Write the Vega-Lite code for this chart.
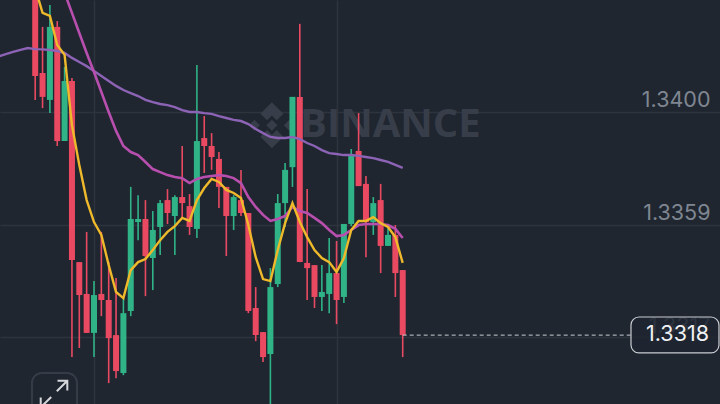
{"$schema":"https://vega.github.io/schema/vega-lite/v6.json","width":720,"height":404,"padding":0,"autosize":{"type":"none"},"background":"#1f2630","config":{"view":{"stroke":null}},
"resolve":{"axis":{"y":"independent"}},
"datasets":{"candles":[
{"t":0,"open":1.34481,"high":1.34481,"low":1.34044,"close":1.34131},
{"t":1,"open":1.34142,"high":1.3431,"low":1.34014,"close":1.34055},
{"t":2,"open":1.34044,"high":1.3439,"low":1.33996,"close":1.3431},
{"t":3,"open":1.3431,"high":1.34331,"low":1.33876,"close":1.33894},
{"t":4,"open":1.33894,"high":1.34164,"low":1.33894,"close":1.34113},
{"t":5,"open":1.34113,"high":1.34124,"low":1.33107,"close":1.33461},
{"t":6,"open":1.33453,"high":1.33453,"low":1.3314,"close":1.33333},
{"t":7,"open":1.33337,"high":1.33563,"low":1.33195,"close":1.33195},
{"t":8,"open":1.33195,"high":1.33384,"low":1.33107,"close":1.33333},
{"t":9,"open":1.33337,"high":1.33563,"low":1.33256,"close":1.33315},
{"t":10,"open":1.33315,"high":1.33453,"low":1.33012,"close":1.33176},
{"t":11,"open":1.33187,"high":1.33395,"low":1.3303,"close":1.33056},
{"t":12,"open":1.33049,"high":1.33322,"low":1.33041,"close":1.33267},
{"t":13,"open":1.33275,"high":1.33727,"low":1.33256,"close":1.3361},
{"t":14,"open":1.33599,"high":1.33697,"low":1.33533,"close":1.3361},
{"t":15,"open":1.3361,"high":1.33679,"low":1.33329,"close":1.33475},
{"t":16,"open":1.33468,"high":1.33639,"low":1.33351,"close":1.3357},
{"t":17,"open":1.33581,"high":1.33679,"low":1.33479,"close":1.33668},
{"t":18,"open":1.33679,"high":1.33719,"low":1.33592,"close":1.33632},
{"t":19,"open":1.33621,"high":1.33697,"low":1.33479,"close":1.3369},
{"t":20,"open":1.3369,"high":1.33876,"low":1.33614,"close":1.33668},
{"t":21,"open":1.33657,"high":1.33701,"low":1.33552,"close":1.33581},
{"t":22,"open":1.33574,"high":1.34171,"low":1.33541,"close":1.33894},
{"t":23,"open":1.33905,"high":1.33985,"low":1.33778,"close":1.33876},
{"t":24,"open":1.33876,"high":1.33923,"low":1.33789,"close":1.33836},
{"t":25,"open":1.33829,"high":1.33854,"low":1.3365,"close":1.33727},
{"t":26,"open":1.33727,"high":1.33727,"low":1.33475,"close":1.33621},
{"t":27,"open":1.33621,"high":1.33697,"low":1.3357,"close":1.3369},
{"t":28,"open":1.33679,"high":1.33789,"low":1.33621,"close":1.33632},
{"t":29,"open":1.33632,"high":1.33632,"low":1.33267,"close":1.33275},
{"t":30,"open":1.33286,"high":1.33362,"low":1.33165,"close":1.33187},
{"t":31,"open":1.33198,"high":1.33198,"low":1.33089,"close":1.33107},
{"t":32,"open":1.33118,"high":1.33431,"low":1.32914,"close":1.33362},
{"t":33,"open":1.33373,"high":1.33701,"low":1.33362,"close":1.33668},
{"t":34,"open":1.33668,"high":1.33814,"low":1.33581,"close":1.33789},
{"t":35,"open":1.33799,"high":1.34055,"low":1.33727,"close":1.34055},
{"t":36,"open":1.34055,"high":1.34321,"low":1.33453,"close":1.33453},
{"t":37,"open":1.3345,"high":1.33719,"low":1.33315,"close":1.33431},
{"t":38,"open":1.33442,"high":1.33442,"low":1.33286,"close":1.33326},
{"t":39,"open":1.33326,"high":1.33442,"low":1.33275,"close":1.33344},
{"t":40,"open":1.33337,"high":1.33541,"low":1.33267,"close":1.33413},
{"t":41,"open":1.33413,"high":1.3353,"low":1.33227,"close":1.33315},
{"t":42,"open":1.33326,"high":1.33592,"low":1.33304,"close":1.33592},
{"t":43,"open":1.33592,"high":1.33865,"low":1.33584,"close":1.33843},
{"t":44,"open":1.33858,"high":1.33996,"low":1.3373,"close":1.3373},
{"t":45,"open":1.33738,"high":1.33767,"low":1.33471,"close":1.33599},
{"t":46,"open":1.33599,"high":1.3369,"low":1.33552,"close":1.33668},
{"t":47,"open":1.33679,"high":1.33738,"low":1.33413,"close":1.33512},
{"t":48,"open":1.33512,"high":1.33588,"low":1.33512,"close":1.33552},
{"t":49,"open":1.33552,"high":1.33588,"low":1.33326,"close":1.33413},
{"t":50,"open":1.33424,"high":1.33424,"low":1.33107,"close":1.33187}
],
"ma7":[{"t":0,"v":1.34452},{"t":1,"v":1.34361},{"t":2,"v":1.3435},{"t":3,"v":1.34244},{"t":4,"v":1.34208},{"t":5,"v":1.33952},{"t":6,"v":1.33807},{"t":7,"v":1.33679},{"t":8,"v":1.33599},{"t":9,"v":1.33552},{"t":10,"v":1.33442},{"t":11,"v":1.33344},{"t":12,"v":1.33322},{"t":13,"v":1.33424},{"t":14,"v":1.33453},{"t":15,"v":1.33464},{"t":16,"v":1.33497},{"t":17,"v":1.33533},{"t":18,"v":1.33563},{"t":19,"v":1.33584},{"t":20,"v":1.33614},{"t":21,"v":1.33603},{"t":22,"v":1.33679},{"t":23,"v":1.33723},{"t":24,"v":1.33756},{"t":25,"v":1.33745},{"t":26,"v":1.33716},{"t":27,"v":1.33705},{"t":28,"v":1.33687},{"t":29,"v":1.33588},{"t":30,"v":1.33471},{"t":31,"v":1.33391},{"t":32,"v":1.33384},{"t":33,"v":1.33497},{"t":34,"v":1.33595},{"t":35,"v":1.33668},{"t":36,"v":1.33599},{"t":37,"v":1.33544},{"t":38,"v":1.33497},{"t":39,"v":1.33468},{"t":40,"v":1.33453},{"t":41,"v":1.33417},{"t":42,"v":1.33468},{"t":43,"v":1.3357},{"t":44,"v":1.33603},{"t":45,"v":1.33603},{"t":46,"v":1.33617},{"t":47,"v":1.33595},{"t":48,"v":1.33581},{"t":49,"v":1.33544},{"t":50,"v":1.3345}],
"ma25":[{"t":3,"v":1.34506},{"t":4,"v":1.34434},{"t":5,"v":1.34361},{"t":6,"v":1.34288},{"t":7,"v":1.34215},{"t":8,"v":1.34146},{"t":9,"v":1.34073},{"t":10,"v":1.34},{"t":11,"v":1.33931},{"t":12,"v":1.33876},{"t":13,"v":1.33854},{"t":14,"v":1.33843},{"t":15,"v":1.33818},{"t":16,"v":1.33792},{"t":17,"v":1.33781},{"t":18,"v":1.3377},{"t":19,"v":1.33763},{"t":20,"v":1.33759},{"t":21,"v":1.33741},{"t":22,"v":1.33756},{"t":23,"v":1.33763},{"t":24,"v":1.33767},{"t":25,"v":1.3377},{"t":26,"v":1.33767},{"t":27,"v":1.33759},{"t":28,"v":1.33741},{"t":29,"v":1.3369},{"t":30,"v":1.33654},{"t":31,"v":1.33625},{"t":32,"v":1.33603},{"t":33,"v":1.3361},{"t":34,"v":1.33621},{"t":35,"v":1.33654},{"t":36,"v":1.33639},{"t":37,"v":1.33632},{"t":38,"v":1.33614},{"t":39,"v":1.33595},{"t":40,"v":1.3357},{"t":41,"v":1.33548},{"t":42,"v":1.33552},{"t":43,"v":1.3357},{"t":44,"v":1.33588},{"t":45,"v":1.33592},{"t":46,"v":1.33592},{"t":47,"v":1.33592},{"t":48,"v":1.33588},{"t":49,"v":1.33574},{"t":50,"v":1.33541}],
"ma99":[{"t":-5,"v":1.34202},{"t":-4,"v":1.34211},{"t":-3,"v":1.34219},{"t":-2,"v":1.34226},{"t":-1,"v":1.34233},{"t":0,"v":1.34229},{"t":1,"v":1.34228},{"t":2,"v":1.34226},{"t":3,"v":1.34222},{"t":4,"v":1.34215},{"t":5,"v":1.34197},{"t":6,"v":1.34182},{"t":7,"v":1.34167},{"t":8,"v":1.34149},{"t":9,"v":1.34131},{"t":10,"v":1.34113},{"t":11,"v":1.34095},{"t":12,"v":1.3408},{"t":13,"v":1.34069},{"t":14,"v":1.34058},{"t":15,"v":1.34044},{"t":16,"v":1.34036},{"t":17,"v":1.34029},{"t":18,"v":1.34025},{"t":19,"v":1.34018},{"t":20,"v":1.34007},{"t":21,"v":1.34},{"t":22,"v":1.34},{"t":23,"v":1.33996},{"t":24,"v":1.33993},{"t":25,"v":1.33985},{"t":26,"v":1.33978},{"t":27,"v":1.33971},{"t":28,"v":1.33967},{"t":29,"v":1.33956},{"t":30,"v":1.33938},{"t":31,"v":1.33923},{"t":32,"v":1.33909},{"t":33,"v":1.33905},{"t":34,"v":1.33905},{"t":35,"v":1.33909},{"t":36,"v":1.33901},{"t":37,"v":1.33887},{"t":38,"v":1.33876},{"t":39,"v":1.33861},{"t":40,"v":1.3385},{"t":41,"v":1.33847},{"t":42,"v":1.33843},{"t":43,"v":1.33843},{"t":44,"v":1.3384},{"t":45,"v":1.33836},{"t":46,"v":1.33832},{"t":47,"v":1.33825},{"t":48,"v":1.33818},{"t":49,"v":1.33807},{"t":50,"v":1.33796}]},
"encoding":{"x":{"field":"t","type":"quantitative","title":null,"scale":{"domain":[-4.789,93.17],"nice":false,"zero":false,"padding":0},"axis":{"values":[8,41],"labels":false,"ticks":false,"domain":false,"grid":true,"gridColor":"#2e343e","gridWidth":1.5,"orient":"bottom"}}},
"layer":[
{"data":{"values":[{"t":32.2,"p":1.33952}]},"mark":{"type":"point","filled":true,"opacity":1,"fill":"#383e49","stroke":null,"shape":"M0,-1L.5,-.5L.21,-.21L0,-.42L-.21,-.21L-.5,-.5ZM0,1L.5,.5L.21,.21L0,.42L-.21,.21L-.5,.5ZM0,-.24L.24,0L0,.24L-.24,0ZM-1,0L-.76,-.24L-.52,0L-.76,.24ZM1,0L.76,-.24L.52,0L.76,.24Z","size":2116},"encoding":{"y":{"field":"p","type":"quantitative","title":null,"scale":{"domain":[1.32936,1.34408],"nice":false,"zero":false},"axis":{"orient":"right","values":[1.34,1.3359,1.3318],"labelExpr":"datum.value<1.332?'1.3317':format(datum.value,'.4f')","labelFont":"Inter","labelFontSize":21.5,"labelColor":"#7f8691","labelAlign":"right","labelPadding":-10,"labelOffset":-11,"ticks":false,"domain":false,"grid":true,"gridColor":"#2e343e","gridWidth":1.5}}}},
{"data":{"values":[{"t":36.03,"p":1.33952,"label":"BINANCE"}]},"mark":{"type":"text","align":"left","baseline":"middle","font":"Open Sans","fontWeight":"bold","fontSize":40,"color":"#383e49"},"encoding":{"text":{"field":"label"},"y":{"field":"p","type":"quantitative","scale":{"domain":[1.32936,1.34408],"nice":false,"zero":false},"axis":null}}},
{"data":{"name":"candles"},"mark":{"type":"rule","strokeWidth":1.6,"clip":true},"encoding":{"y":{"field":"low","type":"quantitative","scale":{"domain":[1.32936,1.34408],"nice":false,"zero":false},"axis":null},"y2":{"field":"high"},"color":{"condition":{"test":"datum.close>=datum.open","value":"#2fb387"},"value":"#e94a62"}}},
{"data":{"name":"candles"},"mark":{"type":"bar","size":6,"clip":true},"encoding":{"y":{"field":"open","type":"quantitative","scale":{"domain":[1.32936,1.34408],"nice":false,"zero":false},"axis":null},"y2":{"field":"close"},"color":{"condition":{"test":"datum.close>=datum.open","value":"#2fb387"},"value":"#e94a62"}}},
{"data":{"name":"ma99"},"mark":{"type":"line","color":"#8c63b5","strokeWidth":2.4,"clip":true},"encoding":{"y":{"field":"v","type":"quantitative","scale":{"domain":[1.32936,1.34408],"nice":false,"zero":false},"axis":null}}},
{"data":{"name":"ma25"},"mark":{"type":"line","color":"#b84fae","strokeWidth":2.6,"clip":true},"encoding":{"y":{"field":"v","type":"quantitative","scale":{"domain":[1.32936,1.34408],"nice":false,"zero":false},"axis":null}}},
{"data":{"name":"ma7"},"mark":{"type":"line","color":"#eeb92a","strokeWidth":2.4,"clip":true},"encoding":{"y":{"field":"v","type":"quantitative","scale":{"domain":[1.32936,1.34408],"nice":false,"zero":false},"axis":null}}},
{"data":{"values":[{"t":50,"t2":81.06,"p":1.33187}]},"mark":{"type":"rule","color":"#c9ccd1","strokeWidth":1,"strokeDash":[4,3]},"encoding":{"x2":{"field":"t2"},"y":{"field":"p","type":"quantitative","scale":{"domain":[1.32936,1.34408],"nice":false,"zero":false},"axis":null}}},
{"data":{"values":[{"t":81.06,"t2":93.03,"p":1.33253,"p2":1.33122}]},"mark":{"type":"rect","fill":"#1f2630","fillOpacity":0.85,"stroke":"#c9ccd1","strokeWidth":1.2,"cornerRadius":8},"encoding":{"x2":{"field":"t2"},"y":{"field":"p","type":"quantitative","scale":{"domain":[1.32936,1.34408],"nice":false,"zero":false},"axis":null},"y2":{"field":"p2"}}},
{"data":{"values":[{"t":91.67,"p":1.33187,"label":"1.3318"}]},"mark":{"type":"text","align":"right","baseline":"middle","font":"Inter","fontSize":21.5,"color":"#f0f1f3"},"encoding":{"text":{"field":"label"},"y":{"field":"p","type":"quantitative","scale":{"domain":[1.32936,1.34408],"nice":false,"zero":false},"axis":null}}},
{"data":{"values":[{"t":-0.44,"t2":5.69,"p":1.33049,"p2":1.32878}]},"mark":{"type":"rect","fill":"#1f2630","stroke":"#363c47","strokeWidth":2,"cornerRadius":10,"clip":true},"encoding":{"x2":{"field":"t2"},"y":{"field":"p","type":"quantitative","scale":{"domain":[1.32936,1.34408],"nice":false,"zero":false},"axis":null},"y2":{"field":"p2"}}},
{"data":{"values":[{"t":2.56,"p":1.32972}]},"mark":{"type":"point","filled":false,"stroke":"#d5d7db","strokeWidth":2,"opacity":1,"clip":true,"shape":"M.2,-.2L.95,-.95M.25,-.95L.95,-.95L.95,-.25M-.2,.2L-.95,.95M-.95,.25L-.95,.95L-.25,.95","size":784},"encoding":{"y":{"field":"p","type":"quantitative","scale":{"domain":[1.32936,1.34408],"nice":false,"zero":false},"axis":null}}}
]}
